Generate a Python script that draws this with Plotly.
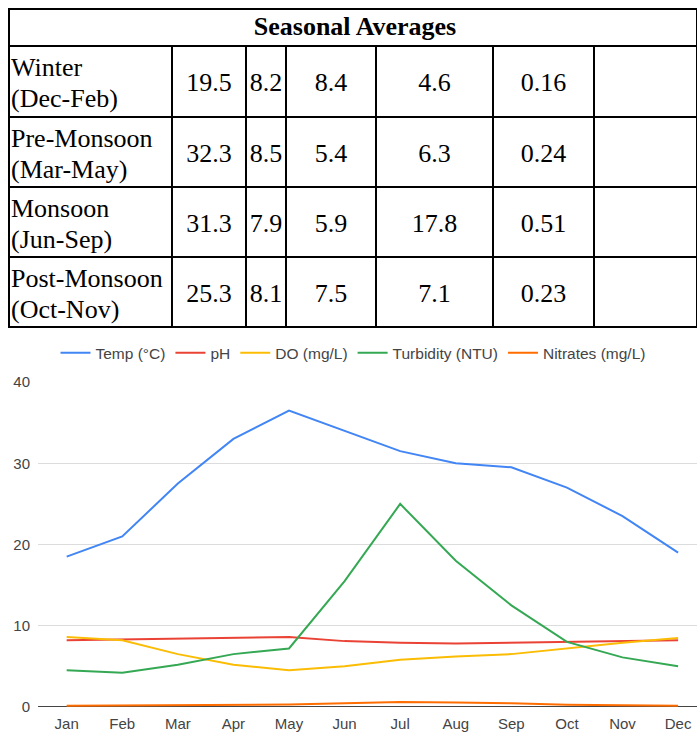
import plotly.graph_objects as go

W, H = 697, 754

# ---------------- data ----------------
months = ["Jan", "Feb", "Mar", "Apr", "May", "Jun", "Jul", "Aug", "Sep", "Oct", "Nov", "Dec"]
temp = [18.5, 21.0, 27.5, 33.0, 36.5, 34.0, 31.5, 30.0, 29.5, 27.0, 23.5, 19.0]
ph = [8.2, 8.3, 8.4, 8.5, 8.6, 8.1, 7.9, 7.8, 7.9, 8.0, 8.1, 8.2]
do = [8.6, 8.2, 6.5, 5.2, 4.5, 5.0, 5.8, 6.2, 6.5, 7.2, 7.9, 8.5]
turbidity = [4.5, 4.2, 5.2, 6.5, 7.2, 15.5, 25.0, 18.0, 12.5, 8.0, 6.1, 5.0]
nitrates = [0.15, 0.18, 0.2, 0.24, 0.28, 0.45, 0.6, 0.55, 0.45, 0.25, 0.2, 0.15]

series_names = ["Temp (°C)", "pH", "DO (mg/L)", "Turbidity (NTU)", "Nitrates (mg/L)"]
series_colors = ["#4285F4", "#EA4335", "#FBBC04", "#34A853", "#FF6D01"]

table_title = "Seasonal Averages"
season_names = ["Winter", "Pre-Monsoon", "Monsoon", "Post-Monsoon"]
season_months = ["(Dec-Feb)", "(Mar-May)", "(Jun-Sep)", "(Oct-Nov)"]
avg_temp = ["19.5", "32.3", "31.3", "25.3"]
avg_ph = ["8.2", "8.5", "7.9", "8.1"]
avg_do = ["8.4", "5.4", "5.9", "7.5"]
avg_turb = ["4.6", "6.3", "17.8", "7.1"]
avg_nitr = ["0.16", "0.24", "0.51", "0.23"]
avg_blank = ["", "", "", ""]

# ---------------- layout constants (pixels) ----------------
TBL_SHIFT = 10          # plotly tables render ~10px below their domain top
tbl_left = 9
title_h = 38
grid_top = 47.7
row_h = 70
col_w = [163, 74, 40, 90, 117, 101, 103]
serif = "Liberation Serif"
cell_fs = 26
NONE = "rgba(0,0,0,0)"

def px_x(p):
    return p / W

def px_y(p):
    return 1 - p / H

def text_table(x0, x1, top, cols, widths, align):
    """Borderless, transparent table used only for cell text."""
    top_dom = top - TBL_SHIFT
    return go.Table(
        domain=dict(x=[px_x(x0), px_x(x1)], y=[px_y(top_dom + 4 * row_h + 10), px_y(top_dom)]),
        columnwidth=widths,
        header=dict(values=[c[0] for c in cols], height=row_h + 1, align=align,
                    fill_color=NONE, line=dict(color=NONE, width=0),
                    font=dict(family=serif, size=cell_fs, color="black")),
        cells=dict(values=[c[1:] for c in cols], height=row_h, align=align,
                   fill_color=NONE, line=dict(color=NONE, width=0),
                   font=dict(family=serif, size=cell_fs, color="black")),
    )

fig = go.Figure()

# title row frame (its dummy cell row is hidden beneath the grid drawn next)
fig.add_trace(go.Table(
    domain=dict(x=[px_x(tbl_left), 1], y=[px_y(title_h + 40), 1]),
    columnwidth=[sum(col_w)],
    header=dict(values=[""], height=title_h, fill_color="white",
                line=dict(color="black", width=2)),
    cells=dict(values=[[""]], height=20, line=dict(color="black", width=2), fill_color="white"),
))

# grid of data rows
fig.add_trace(go.Table(
    domain=dict(x=[px_x(tbl_left), 1],
                y=[px_y(grid_top - TBL_SHIFT + 4 * row_h + 10), px_y(grid_top - TBL_SHIFT)]),
    columnwidth=col_w,
    header=dict(values=["" for _ in col_w], height=row_h + 1, fill_color="white",
                line=dict(color="black", width=2)),
    cells=dict(values=[["", "", ""] for _ in col_w], height=row_h, fill_color="white",
               line=dict(color="black", width=2)),
))

# season labels: first and second line
fig.add_trace(text_table(3, tbl_left + col_w[0], grid_top + 3, [season_names], [col_w[0]], "left"))
fig.add_trace(text_table(3, tbl_left + col_w[0], grid_top + 34, [season_months], [col_w[0]], "left"))

# numeric values
num_cols = [avg_temp, avg_ph, avg_do, avg_turb, avg_nitr, avg_blank]
fig.add_trace(text_table(tbl_left + col_w[0], W, grid_top + 18.5, num_cols, col_w[1:], "center"))

# ---------------- line chart ----------------
for name, vals, col in zip(series_names, [temp, ph, do, turbidity, nitrates], series_colors):
    fig.add_trace(go.Scatter(x=months, y=vals, name=name, mode="lines",
                             line=dict(color=col, width=2), xaxis="x", yaxis="y"))

sans = "Liberation Sans"
fig.update_layout(
    width=W, height=H,
    margin=dict(l=0, r=0, t=0, b=0),
    paper_bgcolor="white", plot_bgcolor="white",
    title=dict(text="<b>" + table_title + "</b>", x=px_x(355), xanchor="center", xref="paper",
               y=px_y(17.5), yanchor="middle", yref="paper",
               font=dict(family=serif, size=cell_fs, color="black")),
    xaxis=dict(domain=[px_x(38), 1], range=[-0.516, 11.34], showgrid=False, showline=False,
               zeroline=False, ticks="", tickfont=dict(family=sans, size=15, color="#444"),
               ticklabelstandoff=6, anchor="y"),
    yaxis=dict(domain=[px_y(714), px_y(381.7)], range=[0, 40], dtick=10, showgrid=True,
               gridcolor="#dcdcdc", gridwidth=1, zeroline=True, zerolinecolor="#444",
               zerolinewidth=1, showline=False, ticks="",
               tickfont=dict(family=sans, size=15, color="#444"), ticklabelstandoff=7,
               anchor="x"),
    legend=dict(orientation="h", x=px_x(353), xanchor="center", y=px_y(352), yanchor="middle",
                font=dict(family=sans, size=15.5, color="#444"), bgcolor=NONE),
    showlegend=True,
)

fig.write_html("out.html")
